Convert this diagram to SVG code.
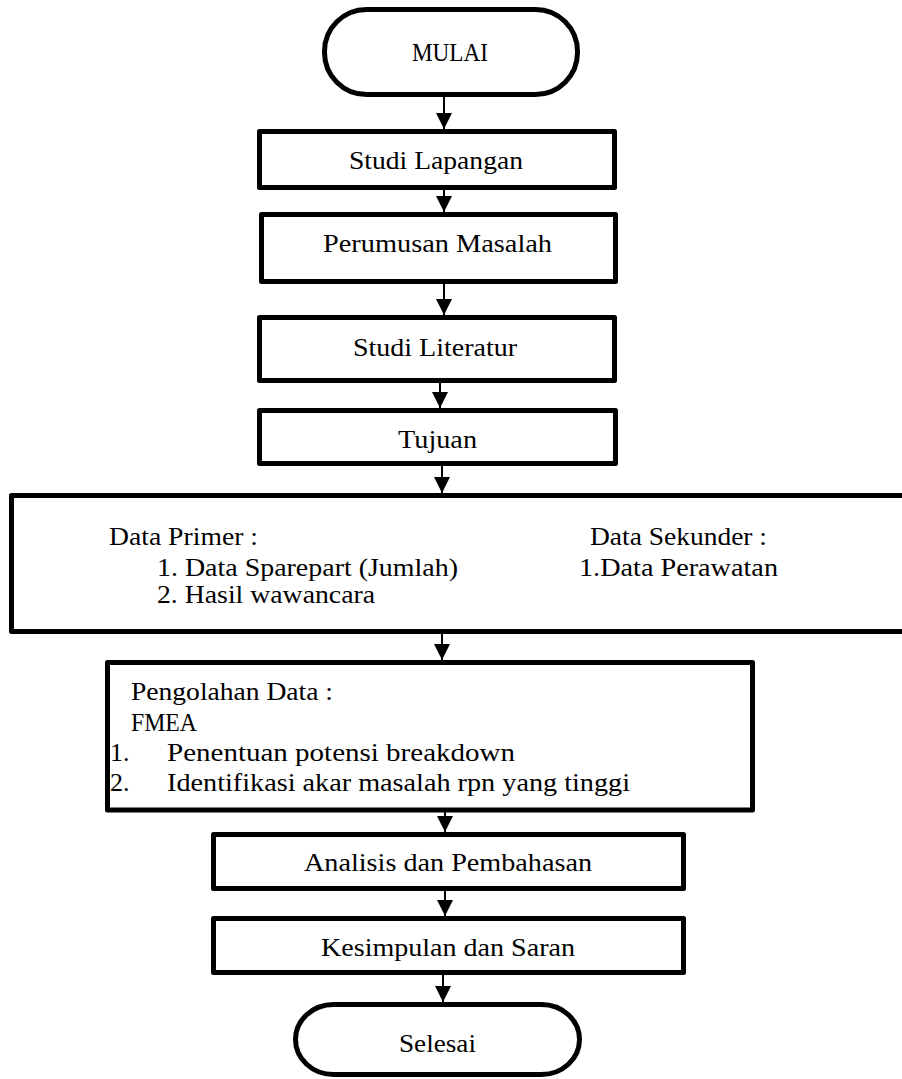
<svg xmlns="http://www.w3.org/2000/svg" width="902" height="1079" viewBox="0 0 902 1079">
<style>
.box{fill:#fff;stroke:#000;stroke-width:5;stroke-linejoin:round}
.t{font-family:"Liberation Serif","Times New Roman",serif;font-size:26px;fill:#000}
.c{stroke:#000;stroke-width:2;fill:none;marker-end:url(#ah)}
</style>
<defs>
<marker id="ah" markerUnits="userSpaceOnUse" markerWidth="16" markerHeight="16" viewBox="0 0 16 16" refX="16" refY="8" orient="auto">
<path d="M0,0 L16,8 L0,16 z" fill="#000"/>
</marker>
</defs>
<rect width="902" height="1079" fill="#fff"/>
<g id="connectors">
<line class="c" x1="444" y1="97" x2="444" y2="129"/>
<line class="c" x1="444" y1="190" x2="444" y2="212"/>
<line class="c" x1="444" y1="284" x2="444" y2="315"/>
<line class="c" x1="440" y1="383" x2="440" y2="408"/>
<line class="c" x1="442" y1="466" x2="442" y2="493"/>
<line class="c" x1="442" y1="634" x2="442" y2="660"/>
<line class="c" x1="445" y1="812" x2="445" y2="832"/>
<line class="c" x1="445" y1="891" x2="445" y2="916"/>
<line class="c" x1="443" y1="975" x2="443" y2="1002"/>
</g>
<g id="mulai">
<rect class="box" x="324.5" y="9.5" width="253" height="85" rx="42" ry="42"/>
<text class="t" x="412" y="61" textLength="76" lengthAdjust="spacingAndGlyphs">MULAI</text>
</g>
<g id="studi-lapangan">
<rect class="box" x="259.5" y="131.5" width="355" height="56"/>
<text class="t" x="349" y="169" textLength="174" lengthAdjust="spacingAndGlyphs">Studi Lapangan</text>
</g>
<g id="perumusan-masalah">
<rect class="box" x="261.5" y="214.5" width="354" height="67"/>
<text class="t" x="323" y="252" textLength="229" lengthAdjust="spacingAndGlyphs">Perumusan Masalah</text>
</g>
<g id="studi-literatur">
<rect class="box" x="259.5" y="317.5" width="355" height="63"/>
<text class="t" x="353" y="356" textLength="164" lengthAdjust="spacingAndGlyphs">Studi Literatur</text>
</g>
<g id="tujuan">
<rect class="box" x="259.5" y="410.5" width="356" height="53"/>
<text class="t" x="398" y="448" textLength="79" lengthAdjust="spacingAndGlyphs">Tujuan</text>
</g>
<g id="data">
<rect class="box" x="11.5" y="495.5" width="905" height="136"/>
<text class="t" x="109" y="545" textLength="149" lengthAdjust="spacingAndGlyphs">Data Primer :</text>
<text class="t" x="157" y="576" textLength="301" lengthAdjust="spacingAndGlyphs">1. Data Sparepart (Jumlah)</text>
<text class="t" x="157" y="603" textLength="218" lengthAdjust="spacingAndGlyphs">2. Hasil wawancara</text>
<text class="t" x="590" y="545" textLength="177" lengthAdjust="spacingAndGlyphs">Data Sekunder :</text>
<text class="t" x="579" y="576" textLength="199" lengthAdjust="spacingAndGlyphs">1.Data Perawatan</text>
</g>
<g id="pengolahan-data">
<rect class="box" x="107.5" y="662.5" width="645" height="147.5"/>
<text class="t" x="131" y="700" textLength="202" lengthAdjust="spacingAndGlyphs">Pengolahan Data :</text>
<text class="t" x="131" y="731" textLength="66" lengthAdjust="spacingAndGlyphs">FMEA</text>
<text class="t" x="110" y="761">1.</text>
<text class="t" x="167" y="761" textLength="348" lengthAdjust="spacingAndGlyphs">Penentuan potensi breakdown</text>
<text class="t" x="110" y="791">2.</text>
<text class="t" x="167" y="791" textLength="463" lengthAdjust="spacingAndGlyphs">Identifikasi akar masalah rpn yang tinggi</text>
</g>
<g id="analisis">
<rect class="box" x="213.5" y="834.5" width="470" height="54"/>
<text class="t" x="304" y="871" textLength="288" lengthAdjust="spacingAndGlyphs">Analisis dan Pembahasan</text>
</g>
<g id="kesimpulan">
<rect class="box" x="213.5" y="918.5" width="470" height="54"/>
<text class="t" x="321" y="956" textLength="254" lengthAdjust="spacingAndGlyphs">Kesimpulan dan Saran</text>
</g>
<g id="selesai">
<rect class="box" x="295.5" y="1004.5" width="284" height="70" rx="38" ry="35"/>
<text class="t" x="399" y="1052" textLength="77" lengthAdjust="spacingAndGlyphs">Selesai</text>
</g>
</svg>
